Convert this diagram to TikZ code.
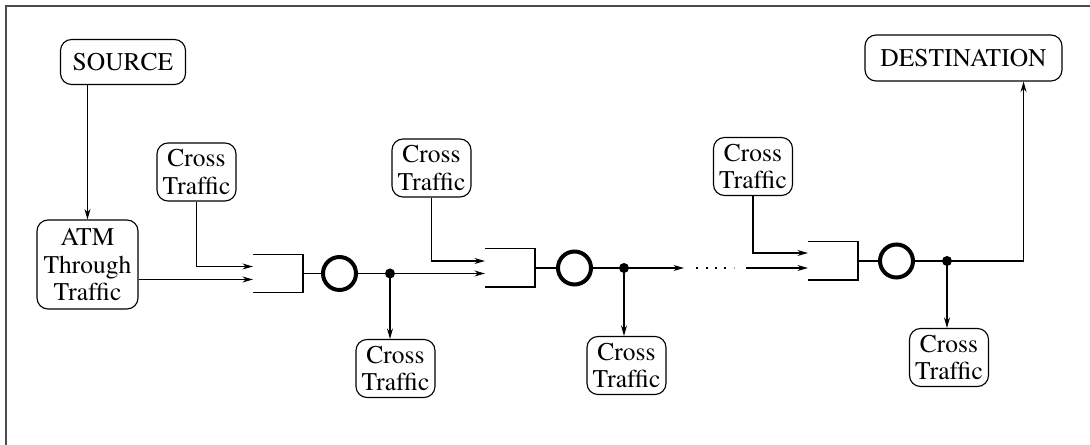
\documentclass[tikz,border=0pt]{standalone}
\usepackage[T1]{fontenc}
\usepackage{times}
\usetikzlibrary{arrows.meta,calc}

\begin{document}
\begin{tikzpicture}[x=0.02cm, y=-0.02cm, >={Stealth[length=0.21cm,width=0.12cm]}, line width=0.65pt,
  every node/.style={font=\fontsize{14.5}{15.5}\selectfont, align=center, inner sep=0pt},
  tbox/.style={draw, rounded corners=0.22cm},
  cross/.style={tbox, minimum width=1.58cm, minimum height=1.16cm},
  queue/.style={minimum width=0.98cm, minimum height=0.74cm},
  server/.style={draw, circle, line width=0.08cm, minimum size=0.66cm},
  tap/.style={circle, fill, minimum size=0.2cm}]
  \useasboundingbox (0,0) rectangle (1090,445);
  % page frame (only top and left edges show)
  \draw[line width=0.04cm, black!70] (6,445) -- (6,6.5) -- (1090,6.5);

  % end points of the connection
\node[tbox, minimum width=2.5cm, minimum height=0.9cm] (src) at (123,62) {SOURCE};

\node[tbox, minimum width=3.94cm, minimum height=0.92cm] (dst) at (963.5,58) {DESTINATION};

\node[tbox, minimum width=2.02cm, minimum height=1.78cm] (atm) at (87.5,264.5) {ATM\\Through\\Traffic};

  % switch stages: queue, server, tap point
\node[queue] (q1) at (278,273.5) {};
\node[server] (srv1) at (339.5,273.5) {};
\node[tap] (d1) at (390,273.5) {};

\node[queue] (q2) at (510,268) {};
\node[server] (srv2) at (574.5,268) {};
\node[tap] (d2) at (624,268) {};

\node[queue] (q3) at (833,261) {};
\node[server] (srv3) at (896.5,261) {};
\node[tap] (d3) at (947,261) {};

  % cross traffic sources (top) and sinks (bottom)
\node[cross] (ct1) at (196.5,172) {Cross\\Traffic};
\node[cross] (ct3) at (431.5,168) {Cross\\Traffic};
\node[cross] (ct5) at (753,166.5) {Cross\\Traffic};

\node[cross] (ct2) at (395.5,368.5) {Cross\\Traffic};
\node[cross] (ct4) at (626.5,365.5) {Cross\\Traffic};
\node[cross] (ct6) at (949,357.5) {Cross\\Traffic};

  % queue inputs and the gap in the chain of switches
  \coordinate (q1in) at ($(q1.west)+(0,6)$);
  \coordinate (gapL) at (684,268);
  \coordinate (gapR) at (746,268);

  % queue outlines, open on the left
  \foreach \q in {q1,q2,q3}
    \draw (\q.north west) -- (\q.north east) -- (\q.south east) -- (\q.south west);

  % through traffic path
  \draw[->] (src.south -| atm.north) -- (atm.north);
  \draw[->] (q1in -| atm.east) -- (q1in);
  \draw (q1.east) -- (srv1.west);
  \draw (srv1.east) -- (d1.center);
  \draw[->] (d1.center) -- (d1 -| q2.west);
  \draw (q2.east) -- (srv2.west);
  \draw (srv2.east) -- (d2.center);
  \draw[->] (d2.center) -- (gapL);
  \draw[dash pattern=on 0.04cm off 0.15cm] ($(gapL)+(12,0)$) -- ($(gapR)+(-12,0)$);
  \draw[->] (gapR) -- (gapR -| q3.west);
  \draw (q3.east) -- (srv3.west);
  \draw (srv3.east) -- (d3.center);
  \draw[->] (d3.center) -| ($(dst.south east)+(-39,0)$);

  % cross traffic in and out
  \draw[->] (ct1.south) |- ($(q1.west)+(0,-7)$);
  \draw[->] (ct3.south) |- ($(q2.west)+(0,-7)$);
  \draw[->] (ct5.south) |- ($(q3.west)+(0,-8)$);
  \draw[->] (d1.center) -- (d1 |- ct2.north);
  \draw[->] (d2.center) -- (d2 |- ct4.north);
  \draw[->] (d3.center) -- (d3 |- ct6.north);
\end{tikzpicture}
\end{document}
